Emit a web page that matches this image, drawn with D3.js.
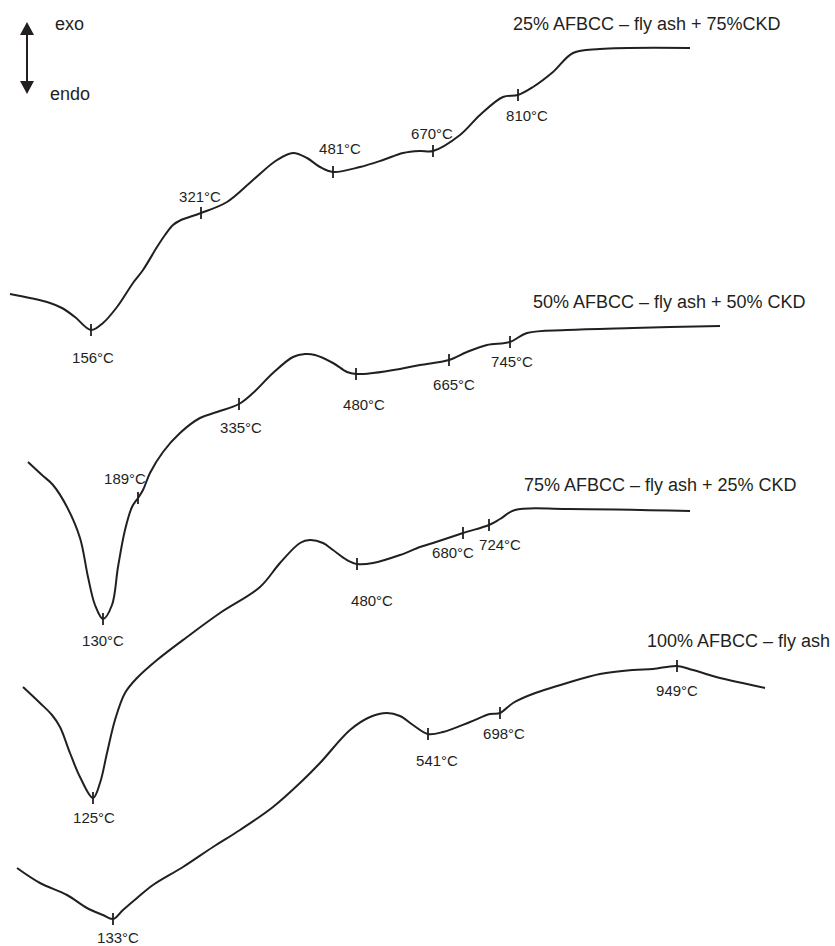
<!DOCTYPE html>
<html>
<head>
<meta charset="utf-8">
<script src="https://cdn.jsdelivr.net/npm/d3@7"></script>
<style>
  body { margin: 0; background: #fff; }
  text { font-family: "Liberation Sans", Arial, sans-serif; fill: #231f20; }
</style>
</head>
<body>
<div id="chart"></div>
<script>
// DTA traces, values (arbitrary trace units: x ~ position, y ~ signal, down = endo)
const names = ["25% AFBCC – fly ash + 75%CKD", "50% AFBCC – fly ash + 50% CKD",
               "75% AFBCC – fly ash + 25% CKD", "100% AFBCC – fly ash"];

const trace25 = [[10,294],[30,298],[50,303],[62,308],[75,317],[91,330],[103,323],[117,307],[133,283],
  [143,270],[157,247],[165,235],[173,225],[181,220],[201,213],[227,202],[253,180],[277,160],[293,153],[307,158],
  [320,167],[333,172],[360,167],[383,160],[403,153],[420,151],[433,151],[460,135],[480,115],[503,97],
  [518,95],[533,87],[553,72],[573,53],[600,49],[690,48]];

const trace50 = [[28,462],[42,475],[53,485],[67,507],[80,538],[88,577],[95,605],[103,619],[112,605],
  [118,567],[125,530],[132,507],[138,498],[143,490],[150,473],[163,452],[180,433],[200,418],[217,412],
  [239,404],[253,393],[273,373],[293,357],[305,354],[315,355],[333,363],[347,372],[356,374],[373,373],
  [400,369],[420,365],[449,360],[467,352],[487,345],[510,342],[527,333],[567,330],[633,328],[720,326]];

const trace75 = [[23,687],[40,703],[52,715],[60,727],[70,753],[80,777],[93,798],[100,783],[107,753],
  [115,720],[125,693],[137,678],[157,660],[187,637],[220,613],[260,587],[280,563],[300,543],[310,540],
  [323,543],[333,550],[347,560],[357,564],[373,563],[400,555],[420,547],[433,543],[463,533],[489,525],
  [500,519],[515,510],[567,509],[690,511]];

const trace100 = [[17,868],[40,883],[67,895],[87,908],[103,915],[113,919],[123,910],[137,898],[153,885],
  [183,867],[213,847],[240,830],[273,807],[300,783],[320,763],[350,730],[370,717],[387,713],[400,716],
  [413,725],[428,734],[443,732],[470,722],[490,714],[500,713],[513,703],[530,695],[567,683],[600,674],
  [633,670],[653,669],[677,666],[693,670],[720,678],[747,684],[765,688]];

// peak markers: [x, y, temperature °C]
const peaks25 = [[91,330,156],[201,213,321],[333,172,481],[433,151,670],[518,95,810]];
const peaks50 = [[103,619,130],[138,498,189],[239,404,335],[356,374,480],[449,360,665],[510,342,745]];
const peaks75 = [[93,798,125],[357,564,480],[463,533,680],[489,525,724]];
const peaks100 = [[113,919,133],[428,734,541],[500,713,698],[677,666,949]];

const traces = [trace25, trace50, trace75, trace100];
const peaks = [peaks25, peaks50, peaks75, peaks100];

// layout: label offsets from each marker, title anchors
const labelOffsets = [
  [[2,33],[-1,-11],[7,-18],[-1,-12],[9,26]],
  [[0,27],[-13,-14],[2,29],[8,36],[5,30],[2,25]],
  [[1,25],[15,42],[-10,25],[11,25]],
  [[5,24],[9,32],[4,26],[0,30]]
];
const titleAt = [[513,30],[533,308],[524,491],[647,647]];

const width = 835, height = 946;

const svg = d3.select("#chart")
  .append("svg")
  .attr("width", width)
  .attr("height", height);

let x = d3.scaleLinear().domain([0, 835]).range([0, width]);
let y = d3.scaleLinear().domain([0, 946]).range([0, height]);

let line = d3.line()
  .x(function(d) { return x(d[0]); })
  .y(function(d) { return y(d[1]); })
  .curve(d3.curveCatmullRom.alpha(0.5));

traces.forEach(function(tr, i) {
  svg.append("path")
    .datum(tr)
    .attr("fill", "none")
    .attr("stroke", "#231f20")
    .attr("stroke-width", 2)
    .attr("stroke-linejoin", "round")
    .attr("d", line);

  svg.selectAll(".tick" + i)
    .data(peaks[i])
    .enter()
    .append("line")
    .attr("x1", function(d) { return x(d[0]); })
    .attr("x2", function(d) { return x(d[0]); })
    .attr("y1", function(d) { return y(d[1]) - 6; })
    .attr("y2", function(d) { return y(d[1]) + 6; })
    .attr("stroke", "#231f20")
    .attr("stroke-width", 1.8);

  svg.selectAll(".lab" + i)
    .data(peaks[i])
    .enter()
    .append("text")
    .attr("x", function(d, j) { return x(d[0]) + labelOffsets[i][j][0]; })
    .attr("y", function(d, j) { return y(d[1]) + labelOffsets[i][j][1]; })
    .style("text-anchor", "middle")
    .style("font-size", "15px")
    .text(function(d) { return d[2] + "°C"; });

  svg.append("text")
    .attr("x", titleAt[i][0])
    .attr("y", titleAt[i][1])
    .style("font-size", "18px")
    .text(names[i]);
});

// exo / endo arrow
svg.append("line")
  .attr("x1", 27).attr("x2", 27)
  .attr("y1", 32).attr("y2", 83)
  .attr("stroke", "#231f20")
  .attr("stroke-width", 2);
svg.append("path")
  .attr("d", "M27,22 L20,35 L34,35 Z")
  .attr("fill", "#231f20");
svg.append("path")
  .attr("d", "M27,94 L20,81 L34,81 Z")
  .attr("fill", "#231f20");
svg.append("text").attr("x", 55).attr("y", 30).style("font-size", "18px").text("exo");
svg.append("text").attr("x", 50).attr("y", 100).style("font-size", "18px").text("endo");
</script>
</body>
</html>
